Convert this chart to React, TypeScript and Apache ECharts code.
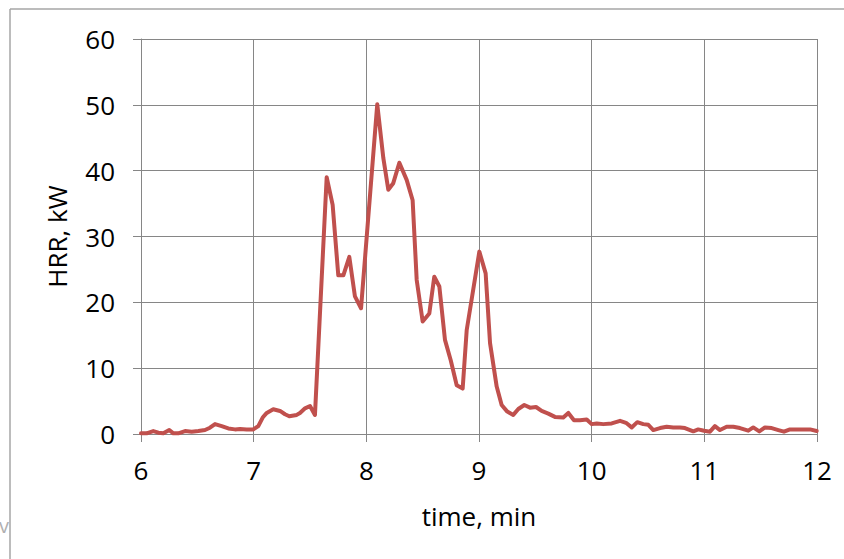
import React, { useEffect, useRef } from "react";
import * as echarts from "echarts";

// time (min) and heat release rate (kW), read at the visible vertices of the curve
const timeMin: number[] = [
  6.0, 6.05, 6.109, 6.154, 6.198, 6.251, 6.287, 6.331, 6.391, 6.45, 6.509, 6.568, 6.612, 6.657, 6.716,
  6.775, 6.834, 6.879, 6.938, 6.997, 7.041, 7.08, 7.116, 7.174, 7.234, 7.278, 7.316, 7.382, 7.411, 7.456,
  7.5, 7.544, 7.648, 7.701, 7.751, 7.796, 7.849, 7.899, 7.953, 8.097, 8.151, 8.195, 8.239, 8.293, 8.358,
  8.411, 8.447, 8.5, 8.559, 8.603, 8.648, 8.698, 8.749, 8.802, 8.855, 8.891, 9.003, 9.059, 9.098, 9.157,
  9.201, 9.251, 9.304, 9.349, 9.402, 9.453, 9.506, 9.556, 9.615, 9.674, 9.748, 9.793, 9.843, 9.896, 9.956,
  10.0, 10.045, 10.103, 10.178, 10.252, 10.305, 10.355, 10.405, 10.458, 10.503, 10.547, 10.607, 10.666,
  10.724, 10.784, 10.828, 10.902, 10.946, 10.997, 11.05, 11.094, 11.139, 11.198, 11.257, 11.316, 11.39,
  11.434, 11.488, 11.538, 11.598, 11.657, 11.707, 11.76, 11.849, 11.938, 11.997,
];
const hrrKW: number[] = [
  0.1, 0.1, 0.45, 0.2, 0.1, 0.6, 0.1, 0.1, 0.45, 0.35, 0.45, 0.6, 0.95, 1.5, 1.2,
  0.85, 0.7, 0.75, 0.7, 0.7, 1.2, 2.5, 3.2, 3.75, 3.5, 3.0, 2.7, 2.9, 3.2, 3.9,
  4.25, 2.9, 39.0, 34.8, 24.1, 24.1, 26.9, 20.9, 19.1, 50.1, 41.9, 37.1, 38.1, 41.2, 38.6,
  35.5, 23.4, 17.1, 18.3, 23.9, 22.4, 14.3, 11.2, 7.4, 6.9, 15.8, 27.7, 24.4, 13.8, 7.2,
  4.4, 3.4, 2.9, 3.8, 4.4, 4.0, 4.1, 3.5, 3.1, 2.6, 2.5, 3.2, 2.1, 2.1, 2.2,
  1.5, 1.6, 1.5, 1.6, 2.0, 1.7, 1.0, 1.8, 1.5, 1.4, 0.6, 0.9, 1.1,
  1.0, 1.0, 0.9, 0.4, 0.7, 0.5, 0.35, 1.2, 0.6, 1.1, 1.1, 0.9, 0.5,
  1.0, 0.4, 1.0, 0.9, 0.6, 0.35, 0.7, 0.7, 0.7, 0.45,
];

const xTitle = "time, min";
const yTitle = "HRR, kW";

export default function App() {
  const ref = useRef<HTMLDivElement>(null);
  useEffect(() => {
    if (!ref.current) return;
    const chart = echarts.init(ref.current, undefined, { renderer: "svg" });
    const grid = "#868686";
    const font = "'Open Sans', 'Noto Sans', sans-serif";
    chart.setOption({
      animation: false,
      backgroundColor: "#ffffff",
      grid: { left: 141, right: 27, top: 39, bottom: 125, containLabel: false, outerBoundsMode: "none" },
      xAxis: {
        type: "value",
        min: 6,
        max: 12,
        interval: 1,
        name: xTitle,
        nameLocation: "middle",
        nameGap: 69,
        nameTextStyle: { color: "#000", fontSize: 26, fontFamily: font },
        axisLine: { show: true, lineStyle: { color: grid, width: 1 } },
        axisTick: { show: true, length: 8, lineStyle: { color: grid, width: 1 } },
        axisLabel: { color: "#000", fontSize: 26, fontFamily: font, margin: 23 },
        splitLine: { show: true, lineStyle: { color: grid, width: 1 } },
      },
      yAxis: {
        type: "value",
        min: 0,
        max: 60,
        interval: 10,
        name: yTitle,
        nameLocation: "middle",
        nameRotate: 90,
        nameGap: 71,
        nameTextStyle: { color: "#000", fontSize: 26, fontFamily: font },
        axisLine: { show: true, lineStyle: { color: grid, width: 1 } },
        axisTick: { show: true, length: 8, lineStyle: { color: grid, width: 1 } },
        axisLabel: { color: "#000", fontSize: 26, fontFamily: font, margin: 26 },
        splitLine: { show: true, lineStyle: { color: grid, width: 1 } },
      },
      graphic: [
        { type: "line", shape: { x1: 10, y1: 9, x2: 844, y2: 9 }, style: { stroke: "#a6a6a6", lineWidth: 1.5 } },
        { type: "line", shape: { x1: 10, y1: 9, x2: 10, y2: 559 }, style: { stroke: "#a6a6a6", lineWidth: 1.5 } },
        { type: "text", x: -1, y: 515, style: { text: "v", fill: "#b0b0b0", fontSize: 20, fontFamily: font } },
      ],
      series: [
        {
          type: "line",
          data: timeMin.map((t, i) => [t, hrrKW[i]]),
          showSymbol: false,
          smooth: false,
          lineStyle: { color: "#C0504D", width: 4, join: "round", cap: "round" },
          itemStyle: { color: "#C0504D" },
        },
      ],
    });
    return () => chart.dispose();
  }, []);
  return <div ref={ref} style={{ position: "absolute", left: 0, top: 0, width: 844, height: 559 }} />;
}
